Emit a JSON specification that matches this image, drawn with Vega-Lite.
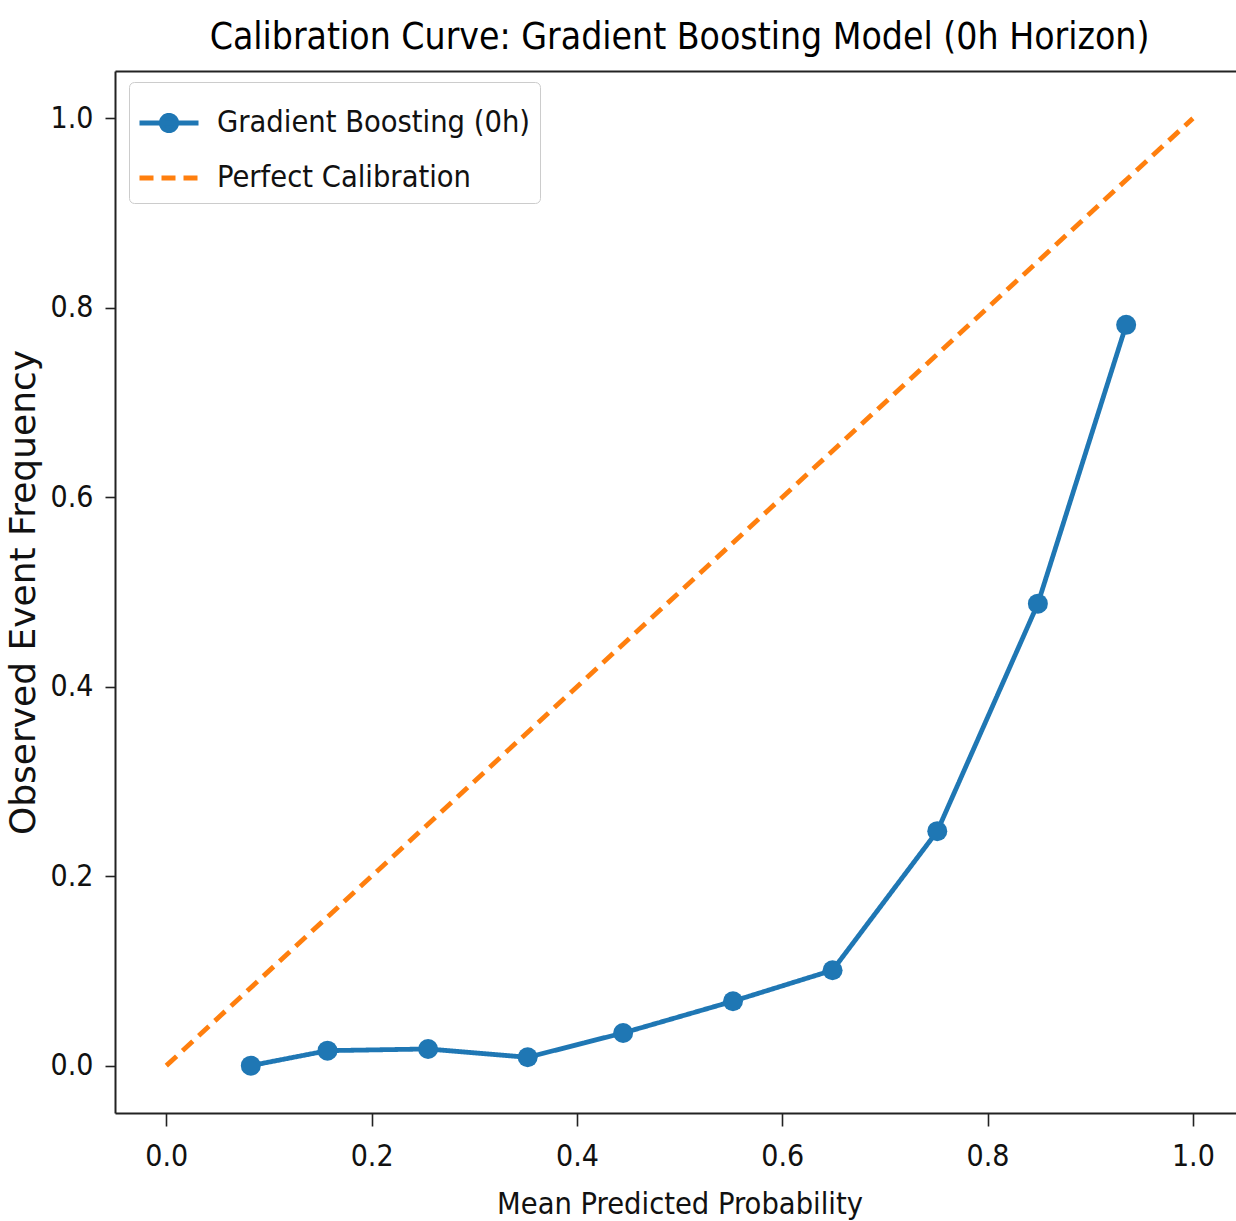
{
  "$schema": "https://vega.github.io/schema/vega-lite/v6.json",
  "width": 1121,
  "height": 1042,
  "autosize": "none",
  "padding": {"left": 115, "top": 71, "right": 0, "bottom": 108},
  "background": "white",
  "title": {
    "text": "Calibration Curve: Gradient Boosting Model (0h Horizon)",
    "font": "DejaVu Sans Condensed",
    "fontSize": 37,
    "fontWeight": "normal",
    "color": "#000000",
    "anchor": "middle",
    "dx": 4,
    "offset": 14
  },
  "data": {
    "values": [
      {"series": "Gradient Boosting (0h)", "x": 0.0823, "y": 0.0},
      {"series": "Gradient Boosting (0h)", "x": 0.157, "y": 0.0158},
      {"series": "Gradient Boosting (0h)", "x": 0.255, "y": 0.0176},
      {"series": "Gradient Boosting (0h)", "x": 0.352, "y": 0.0088},
      {"series": "Gradient Boosting (0h)", "x": 0.445, "y": 0.0345},
      {"series": "Gradient Boosting (0h)", "x": 0.552, "y": 0.068},
      {"series": "Gradient Boosting (0h)", "x": 0.649, "y": 0.1007},
      {"series": "Gradient Boosting (0h)", "x": 0.751, "y": 0.2475},
      {"series": "Gradient Boosting (0h)", "x": 0.849, "y": 0.4877},
      {"series": "Gradient Boosting (0h)", "x": 0.935, "y": 0.782},
      {"series": "Perfect Calibration", "x": 0.0, "y": 0.0},
      {"series": "Perfect Calibration", "x": 1.0, "y": 1.0}
    ]
  },
  "config": {
    "view": {"stroke": null},
    "font": "DejaVu Sans Condensed",
    "axis": {
      "grid": false,
      "domainColor": "#222222",
      "domainWidth": 2,
      "tickColor": "#222222",
      "tickWidth": 1.6,
      "labelColor": "#111111",
      "titleColor": "#111111",
      "labelFont": "DejaVu Sans Condensed",
      "titleFont": "DejaVu Sans Condensed",
      "labelFontSize": 30,
      "titleFontSize": 30.5,
      "titleFontWeight": "normal"
    }
  },
  "layer": [
    {
      "mark": {"type": "line", "strokeWidth": 4.8, "strokeJoin": "round"},
      "encoding": {
        "x": {
          "field": "x", "type": "quantitative",
          "scale": {"domain": [-0.05, 1.042], "nice": false, "zero": false},
          "axis": {
            "orient": "bottom",
            "values": [0, 0.2, 0.4, 0.6, 0.8, 1.0],
            "format": ".1f",
            "tickSize": 13,
            "labelPadding": 15,
            "title": "Mean Predicted Probability",
            "titlePadding": 18,
            "titleX": 564.5
          }
        },
        "y": {
          "field": "y", "type": "quantitative",
          "scale": {"domain": [-0.05, 1.05], "nice": false, "zero": false},
          "axis": {
            "values": [0, 0.2, 0.4, 0.6, 0.8, 1.0],
            "format": ".1f",
            "tickSize": 10,
            "labelPadding": 12,
            "title": "Observed Event Frequency",
            "titleFont": "DejaVu Sans",
            "titleFontSize": 36,
            "titlePadding": 8
          }
        },
        "color": {
          "field": "series", "type": "nominal",
          "scale": {"domain": ["Gradient Boosting (0h)", "Perfect Calibration"], "range": ["#1f77b4", "#ff7f0e"]},
          "legend": {
            "title": null,
            "orient": "none",
            "legendX": 14,
            "legendY": 11,
            "labelFontSize": 30.5,
            "labelFont": "DejaVu Sans Condensed",
            "labelColor": "#111111",
            "labelLimit": 500,
            "symbolSize": 3481,
            "symbolStrokeWidth": 4.8,
            "symbolOffset": -1,
            "labelOffset": 16,
            "rowPadding": 5,
            "padding": 9,
            "strokeColor": "#cccccc",
            "fillColor": "#ffffff",
            "cornerRadius": 5,
            "encode": {
              "symbols": {
                "update": {
                  "shape": {"signal": "datum.value === 'Gradient Boosting (0h)' ? 'M-1,0L1,0M-0.26,0A0.26,0.26,0,1,0,0.26,0A0.26,0.26,0,1,0,-0.26,0Z' : 'M-1,0L1,0'"},
                  "fill": {"value": "#1f77b4"},
                  "strokeDash": {"signal": "datum.value === 'Perfect Calibration' ? [14,8] : [1,0]"}
                }
              }
            }
          }
        },
        "strokeDash": {
          "field": "series", "type": "nominal",
          "scale": {"domain": ["Gradient Boosting (0h)", "Perfect Calibration"], "range": [[1, 0], [14, 8]]},
          "legend": null
        }
      }
    },
    {
      "transform": [{"filter": {"field": "series", "equal": "Gradient Boosting (0h)"}}],
      "mark": {"type": "point", "filled": true, "shape": "circle", "size": 400, "color": "#1f77b4", "opacity": 1},
      "encoding": {
        "x": {
          "field": "x", "type": "quantitative",
          "axis": {"orient": "top", "labels": false, "ticks": false, "title": null, "domain": true}
        },
        "y": {"field": "y", "type": "quantitative"}
      }
    }
  ],
  "resolve": {"axis": {"x": "independent"}}
}
